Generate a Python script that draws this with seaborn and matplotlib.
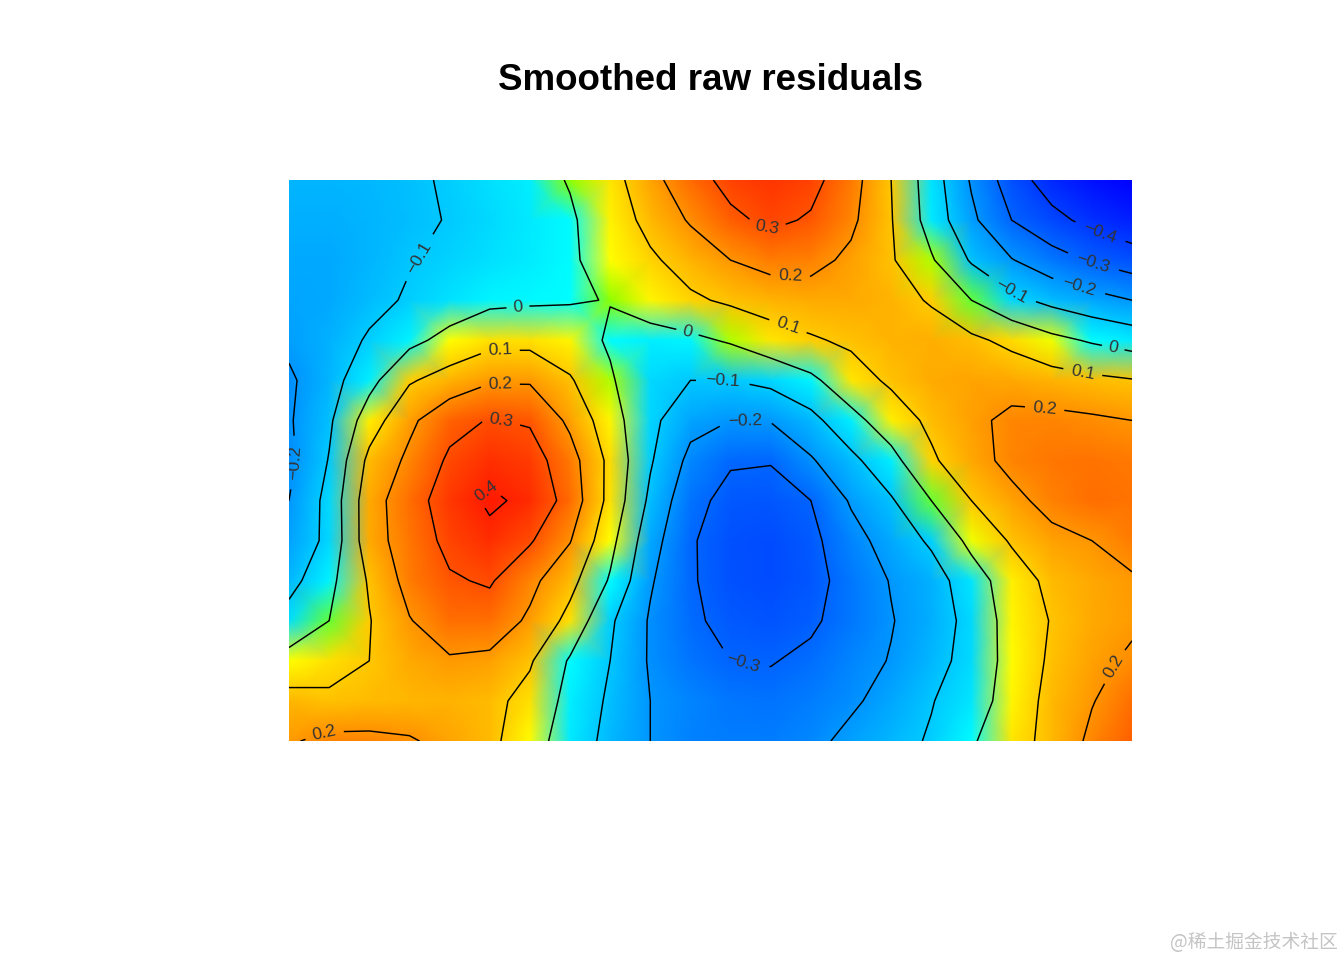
# Smoothed raw residuals: heat map with labelled contours
import numpy as np
import matplotlib
matplotlib.use("Agg")
import matplotlib.pyplot as plt
from matplotlib.colors import LinearSegmentedColormap, Normalize
import seaborn as sns

# residual surface, one row per horizontal band (top to bottom)
row_01 = [-.14, -.14, -.13, -.115, -.09, -.06, -.03, .005, .06, .17, .26, .33, .36, .33, .24, .10, -.05, -.21, -.35, -.45, -.51, -.55]
row_02 = [-.15, -.15, -.14, -.12, -.095, -.07, -.04, -.01, .045, .13, .21, .28, .32, .29, .22, .105, -.04, -.18, -.30, -.37, -.43, -.47]
row_03 = [-.16, -.16, -.14, -.105, -.08, -.06, -.035, -.01, .03, .085, .14, .20, .235, .23, .18, .11, .01, -.11, -.195, -.26, -.31, -.35]
row_04 = [-.17, -.16, -.125, -.09, -.055, -.02, -.012, -.005, .002, .04, .085, .115, .14, .155, .16, .14, .09, .0, -.075, -.125, -.165, -.20]
row_05 = [-.18, -.145, -.09, -.025, .03, .07, .07, .04, -.01, -.03, -.02, .01, .06, .09, .115, .14, .15, .12, .075, .025, -.01, -.04]
row_06 = [-.215, -.14, -.03, .09, .14, .19, .19, .11, .01, -.07, -.10, -.10, -.075, -.02, .06, .115, .155, .17, .165, .14, .12, .105]
row_07 = [-.21, -.115, .05, .18, .27, .305, .29, .18, .04, -.075, -.17, -.20, -.195, -.13, -.03, .05, .12, .18, .22, .225, .215, .20]
row_08 = [-.22, -.095, .125, .22, .315, .37, .345, .24, .075, -.09, -.225, -.29, -.295, -.21, -.125, -.03, .085, .165, .225, .245, .25, .24]
row_09 = [-.20, -.07, .16, .255, .35, .415, .38, .26, .07, -.12, -.27, -.33, -.335, -.30, -.19, -.11, .0, .10, .175, .23, .255, .25]
row_10 = [-.175, -.075, .16, .245, .325, .375, .31, .205, .03, -.16, -.29, -.35, -.36, -.325, -.235, -.16, -.085, .025, .11, .175, .20, .235]
row_11 = [-.135, -.025, .11, .235, .29, .31, .225, .13, -.01, -.19, -.29, -.345, -.36, -.335, -.26, -.195, -.145, -.045, .05, .125, .165, .19]
row_12 = [-.06, .0, .095, .195, .255, .255, .185, .07, -.085, -.21, -.285, -.325, -.34, -.315, -.26, -.205, -.15, -.07, .04, .105, .16, .185]
row_13 = [.03, .07, .10, .16, .19, .18, .11, -.01, -.10, -.21, -.265, -.30, -.305, -.28, -.235, -.195, -.135, -.065, .035, .115, .175, .215]
row_14 = [.135, .115, .125, .135, .14, .125, .07, -.03, -.115, -.20, -.235, -.26, -.27, -.25, -.215, -.165, -.105, -.045, .04, .13, .195, .255]
row_15 = [.19, .225, .225, .21, .17, .125, .035, -.04, -.13, -.20, -.24, -.25, -.25, -.225, -.175, -.135, -.09, -.01, .06, .13, .22, .28]
residuals = np.array([row_01, row_02, row_03, row_04, row_05, row_06, row_07, row_08,
                      row_09, row_10, row_11, row_12, row_13, row_14, row_15])

levels = [-.4, -.3, -.2, -.1, 0, .1, .2, .3, .4]
title = "Smoothed raw residuals"
watermark = "@稀土掘金技术社区"

# blue to cyan below zero, green then yellow to red above it
low, high = -.55, .43
def pos(v):
    return (v - low) / (high - low)
cmap = LinearSegmentedColormap.from_list("resid", [
    (0, "#0000ff"), (pos(-.3), "#0064ff"), (pos(-.2), "#0096ff"), (pos(-.1), "#00c8ff"),
    (pos(-.002), "#00ffff"), (pos(0), "#80ff00"), (pos(.03), "#ffff00"), (pos(.1), "#ffc800"),
    (pos(.2), "#ff9600"), (pos(.3), "#ff5000"), (1, "#ff1400")])

fig = plt.figure(figsize=(13.44, 9.6), dpi=100)
left, right, top, bottom = 289, 1132, 180, 741
ax = fig.add_axes([left / 1344, 1 - bottom / 960, (right - left) / 1344, (bottom - top) / 960])

sns.heatmap(residuals, cmap=cmap, norm=Normalize(low, high), cbar=False, ax=ax,
            xticklabels=False, yticklabels=False, shading="gouraud")
ncol, nrow = residuals.shape[1], residuals.shape[0]
ax.set_xlim(0, ncol - 1)
ax.set_ylim(nrow - 1, 0)

cs = ax.contour(np.arange(ncol), np.arange(nrow), residuals, levels=levels,
                colors="black", linewidths=1.05, linestyles="solid")

# where the contour labels sit, in picture pixels
label_px = [(770, 222), (790, 281), (788, 326), (688, 330), (518, 308), (500, 356), (500, 392),
            (500, 428), (490, 494), (723, 382), (745, 425), (742, 668), (415, 255), (297, 463),
            (1012, 290), (1078, 290), (1093, 263), (1100, 233), (1113, 349), (1083, 371),
            (1045, 404), (1115, 667), (321, 723)]
sx = (ncol - 1) / (right - left)
sy = (nrow - 1) / (bottom - top)
manual = [((x - left) * sx, (y - top) * sy) for x, y in label_px]
def fmt(v):
    return "0" if abs(v) < 1e-9 else f"{v:g}".replace("-", "\u2212")
labels = ax.clabel(cs, levels=levels, manual=manual, fmt=fmt, fontsize=12.5, inline=True, inline_spacing=6)
for t in labels:
    t.set_family("Liberation Sans")
    t.set_color("#333333")

fig.text(710 / 1344, 1 - 80 / 960, title, ha="center", va="center", fontsize=26.5,
         fontweight="bold", family="Liberation Sans", color="black")
fig.text(1338 / 1344, 1 - 943 / 960, watermark, ha="right", va="center", fontsize=13.5,
         family="Noto Sans CJK SC", color="#c4c4c4")

fig.savefig("out.png", dpi=100)
